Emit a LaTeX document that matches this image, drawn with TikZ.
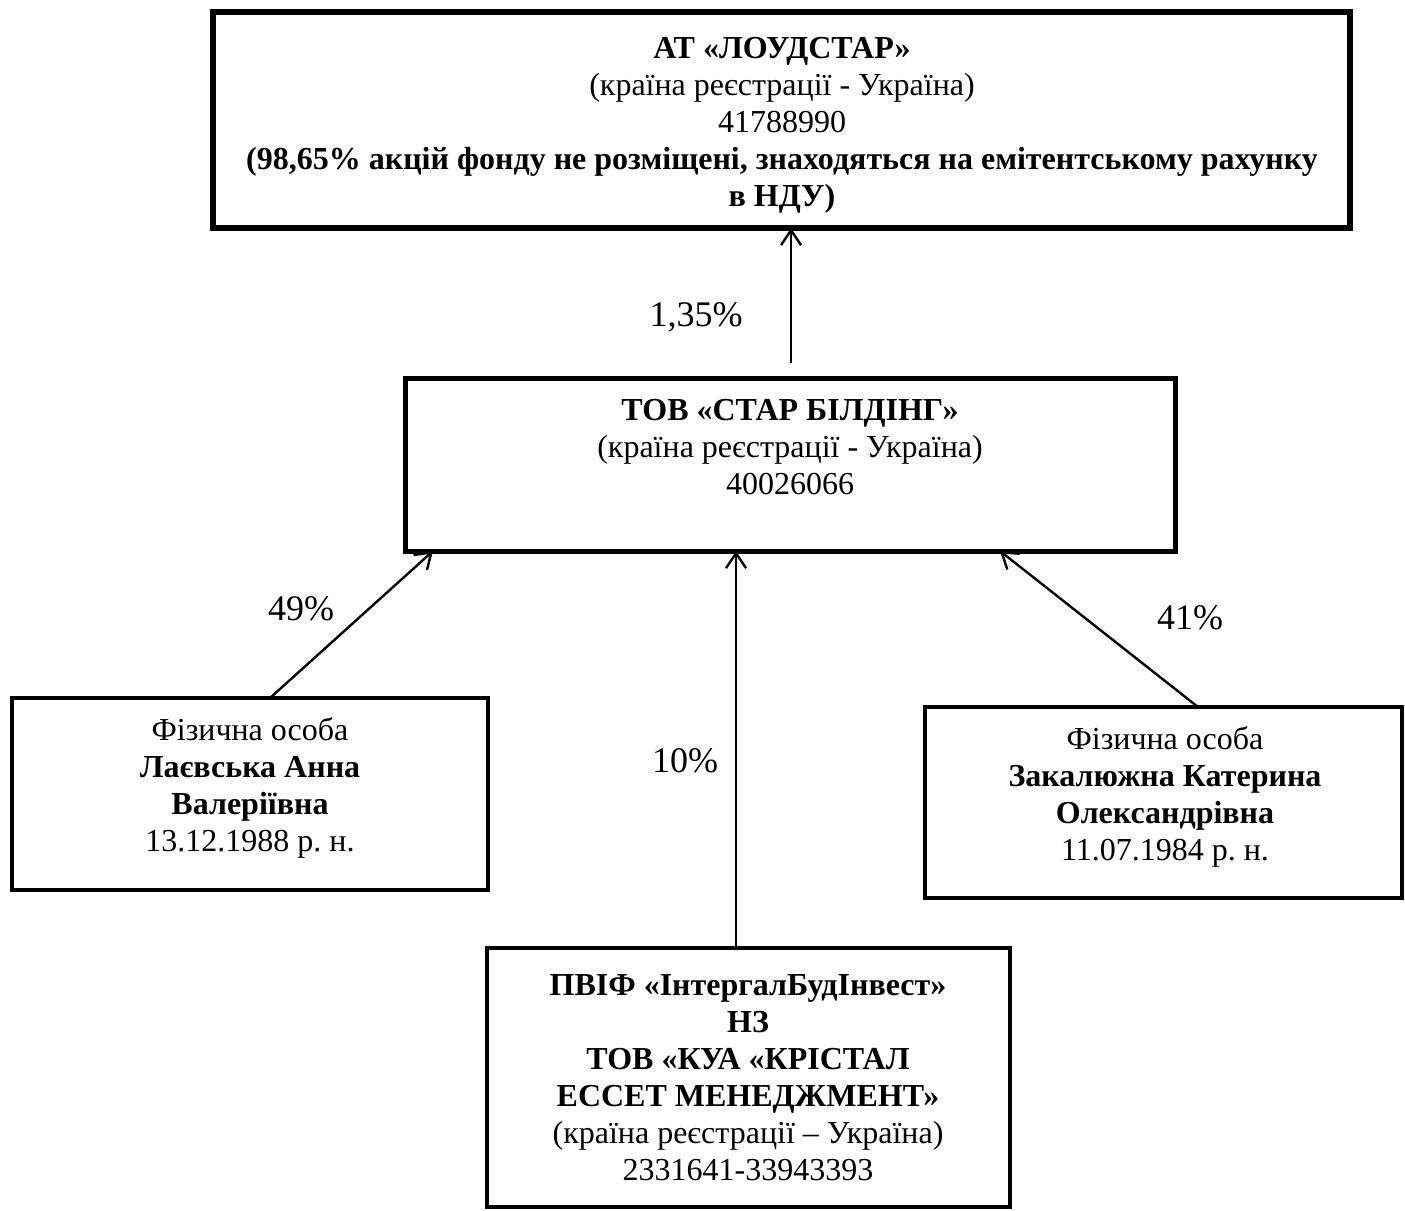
\documentclass[tikz,border=0pt]{standalone}
\usepackage{fontspec}
\setmainfont{Liberation Serif}
\usetikzlibrary{arrows.meta}
\frenchspacing
\begin{document}
\begin{tikzpicture}[x=1pt,y=-1pt,
  box/.style={draw=black, rectangle, inner sep=0pt, outer sep=0pt},
  txt/.style={align=center, inner sep=0pt, font=\fontsize{32}{37}\selectfont},
  pct/.style={inner sep=0pt, font=\fontsize{36}{40}\selectfont},
  arr/.style={draw=black, line width=2.4pt, -{Straight Barb[length=15pt,width=20pt,line width=2.4pt]}}
]
\useasboundingbox[fill=white] (0,0) rectangle (1405,1210);

% boxes
\node[box, line width=5.5pt, minimum width=1137pt, minimum height=216pt] (top) at (781.5,120) {};
\node[box, line width=5pt, minimum width=770pt, minimum height=173pt] (mid) at (790,464.5) {};
\node[box, line width=4.5pt, minimum width=476pt, minimum height=192pt] (left) at (250,794) {};
\node[box, line width=4.5pt, minimum width=477pt, minimum height=191pt] (right) at (1163.5,802.5) {};
\node[box, line width=4.5pt, minimum width=523pt, minimum height=259pt] (bot) at (748.5,1077.5) {};

% texts
\node[txt] (toptxt) at (782,125) {\textbf{АТ «ЛОУДСТАР»}\\(країна реєстрації - Україна)\\41788990\\\textbf{(98,65\% акцій фонду не розміщені, знаходяться на емітентському рахунку}\\\textbf{в НДУ)}};
\node[txt] (midtxt) at (790,447) {\textbf{ТОВ «СТАР БІЛДІНГ»}\\(країна реєстрації - Україна)\\40026066};
\node[txt] (lefttxt) at (250,788) {Фізична особа\\\textbf{Лаєвська Анна}\\\textbf{Валеріївна}\\13.12.1988 р. н.};
\node[txt] (righttxt) at (1165,797) {Фізична особа\\\textbf{Закалюжна Катерина}\\\textbf{Олександрівна}\\11.07.1984 р. н.};
\node[txt] (bottxt) at (748,1078) {\textbf{ПВІФ «ІнтергалБудІнвест»}\\\textbf{НЗ}\\\textbf{ТОВ «КУА «КРІСТАЛ}\\\textbf{ЕССЕТ МЕНЕДЖМЕНТ»}\\(країна реєстрації – Україна)\\2331641-33943393};

% x positions of connector ends
\coordinate (xt) at (791,0);
\coordinate (xl1) at (270,0);
\coordinate (xl2) at (433,0);
\coordinate (xr1) at (1198,0);
\coordinate (xr2) at (1000,0);
\coordinate (xm) at (736,0);

% connectors
\draw[arr, shorten <=15pt] (mid.north -| xt) -- (top.south -| xt);
\draw[arr] (left.north -| xl1) -- (mid.south -| xl2);
\draw[arr] (right.north -| xr1) -- (mid.south -| xr2);
\draw[arr] (bot.north -| xm) -- (mid.south -| xm);

% labels
\node[pct] (p135) at (696,317) {1,35\%};
\node[pct] (p49) at (301,609) {49\%};
\node[pct] (p41) at (1190,618) {41\%};
\node[pct] (p10) at (685,761) {10\%};
\end{tikzpicture}
\end{document}
